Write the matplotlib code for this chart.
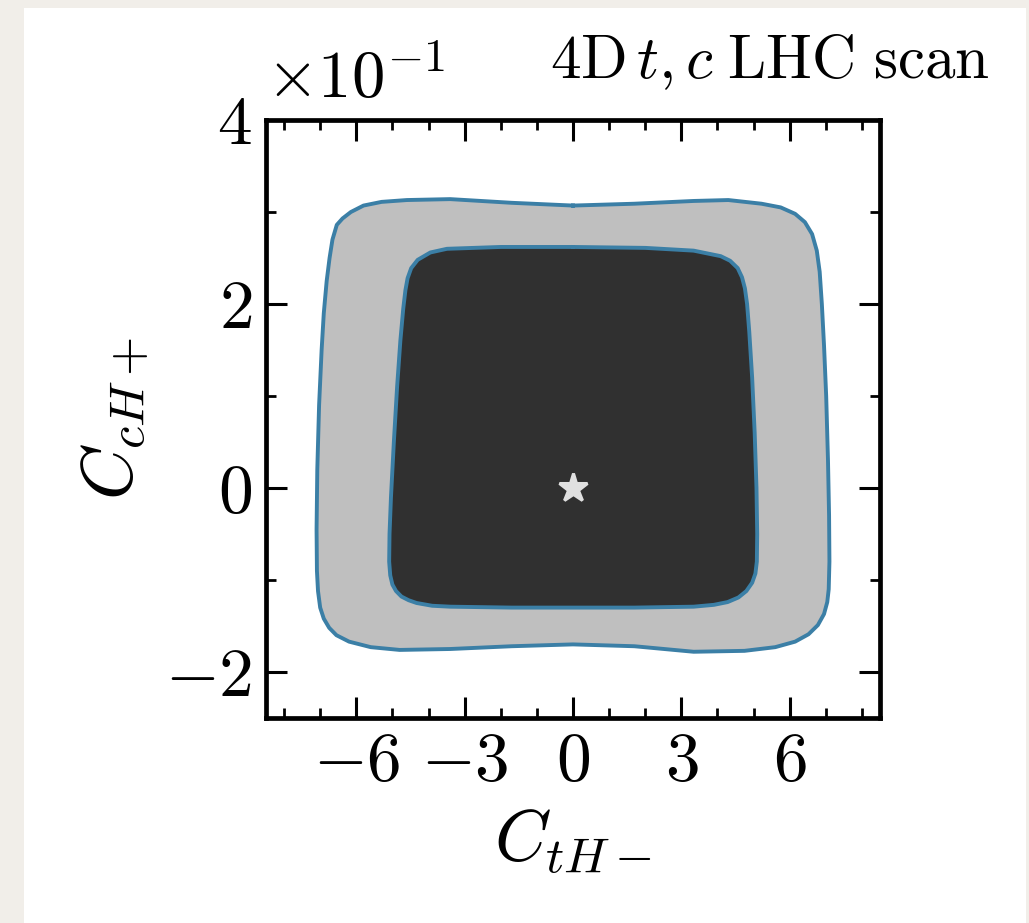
import matplotlib
matplotlib.use("Agg")
import matplotlib.pyplot as plt
from matplotlib.patches import Rectangle
from matplotlib.ticker import MultipleLocator, FixedLocator, FuncFormatter

# contour boundaries (x: C_tH-, y: C_cH+ in units of 1e-1)
outer_x = [0, -1.7, -3.4, -4.6, -5.3, -5.8, -6.15, -6.38, -6.54, -6.66, -6.74, -6.82, -6.9,
           -6.96, -7.03, -7.08, -7.10, -7.09, -7.06, -7.0, -6.9, -6.75, -6.55, -6.2, -5.6,
           -4.8, -3.4, -1.7, 0, 1.7, 3.34, 4.75, 5.6, 6.15, 6.52, 6.78, 6.95, 7.04, 7.08,
           7.10, 7.09, 7.06, 7.01, 6.95, 6.89, 6.83, 6.75, 6.62, 6.42, 6.15, 5.75, 5.22,
           4.3, 3.34, 1.7, 0]
outer_y = [3.07, 3.10, 3.14, 3.13, 3.11, 3.07, 3.0, 2.93, 2.86, 2.70, 2.5, 2.25, 1.9,
           1.5, 0.9, 0.2, -0.45, -0.9, -1.12, -1.3, -1.42, -1.52, -1.6, -1.67, -1.73,
           -1.76, -1.75, -1.72, -1.70, -1.72, -1.78, -1.77, -1.73, -1.67, -1.59, -1.49, -1.37, -1.24, -1.1,
           -0.8, -0.3, 0.3, 1.0, 1.55, 2.0, 2.35, 2.58, 2.76, 2.89, 2.98, 3.05, 3.09,
           3.13, 3.12, 3.09, 3.07]

inner_x = [0, -2.0, -3.49, -3.95, -4.3, -4.48, -4.58, -4.64, -4.7, -4.78, -4.87, -4.96,
           -5.04, -5.08, -5.09, -5.06, -5.0, -4.9, -4.75, -4.55, -4.33, -3.9, -3.4, -1.7,
           0, 1.7, 3.34, 3.9, 4.28, 4.58, 4.8, 4.96, 5.05, 5.09, 5.10, 5.08, 5.03, 4.96,
           4.88, 4.82, 4.76, 4.68, 4.56, 4.35, 4.09, 3.34, 2.0, 0]
inner_y = [2.62, 2.62, 2.6, 2.56, 2.48, 2.39, 2.28, 2.15, 1.95, 1.6, 1.1, 0.5,
           -0.1, -0.5, -0.8, -0.95, -1.05, -1.12, -1.18, -1.22, -1.25, -1.28, -1.29, -1.30,
           -1.30, -1.30, -1.29, -1.27, -1.24, -1.19, -1.12, -1.03, -0.93, -0.8, -0.5, 0.0, 0.6, 1.2,
           1.7, 2.0, 2.17, 2.29, 2.39, 2.47, 2.52, 2.58, 2.61, 2.62]

best_fit = (0.0, 0.0)

x_major = [-6, -3, 0, 3, 6]
y_major = [-2, 0, 2, 4]

plt.rcParams['mathtext.fontset'] = 'cm'
plt.rcParams['font.family'] = 'serif'
plt.rcParams['font.serif'] = ['cmr10', 'DejaVu Serif']
plt.rcParams['axes.unicode_minus'] = False

fig = plt.figure(figsize=(10.29, 9.23), dpi=100)
fig.patch.set_facecolor('#f1eee9')
fig.patches.append(Rectangle((24 / 1029, 0), (1026 - 24) / 1029, 1 - 8 / 923,
                             transform=fig.transFigure, facecolor='white',
                             edgecolor='none', zorder=-5))

ax = fig.add_axes([266 / 1029, 1 - 718 / 923, 614 / 1029, 598 / 923])
ax.set_facecolor('white')

edge = '#3b7fa6'
ax.fill(outer_x, outer_y, color='#bfbfbf', lw=0, zorder=1)
ax.plot(outer_x, outer_y, color=edge, lw=2.8, zorder=2, solid_joinstyle='round')
ax.fill(inner_x, inner_y, color='#303030', lw=0, zorder=3)
ax.plot(inner_x, inner_y, color=edge, lw=2.8, zorder=4, solid_joinstyle='round')
ax.plot([best_fit[0]], [best_fit[1]], marker='*', ms=21, color='#e0e0e0',
        mec='#e0e0e0', mew=2.2, ls='None', zorder=5)

ax.set_xlim(-8.5, 8.5)
ax.set_ylim(-2.5, 4)

ax.xaxis.set_major_locator(FixedLocator(x_major))
ax.yaxis.set_major_locator(FixedLocator(y_major))
ax.xaxis.set_minor_locator(MultipleLocator(1))
ax.yaxis.set_minor_locator(MultipleLocator(1))
fmt = FuncFormatter(lambda v, p: r'$%d$' % round(v))
ax.xaxis.set_major_formatter(fmt)
ax.yaxis.set_major_formatter(fmt)

ax.tick_params(which='both', direction='in', top=True, right=True, labelsize=50)
ax.tick_params(which='major', length=15, width=2.2)
ax.tick_params(which='minor', length=7, width=2.0)
ax.tick_params(axis='x', pad=10)
ax.tick_params(axis='y', pad=10)
for s in ax.spines.values():
    s.set_linewidth(3.4)

ax.set_xlabel(r'$C_{tH-}$', fontsize=52, labelpad=10)
ax.set_ylabel(r'$C_{cH+}$', fontsize=52, labelpad=10)

ax.text(0.0, 1.015, r'$\times10^{-1}$', transform=ax.transAxes, fontsize=48,
        ha='left', va='bottom')
fig.text(990 / 1029, 1 - 78 / 923, r'$\mathrm{4D}\,t, c\;\mathrm{LHC\ scan}$',
         fontsize=44, ha='right', va='baseline')

fig.savefig('out.png', dpi=100, facecolor=fig.get_facecolor())
